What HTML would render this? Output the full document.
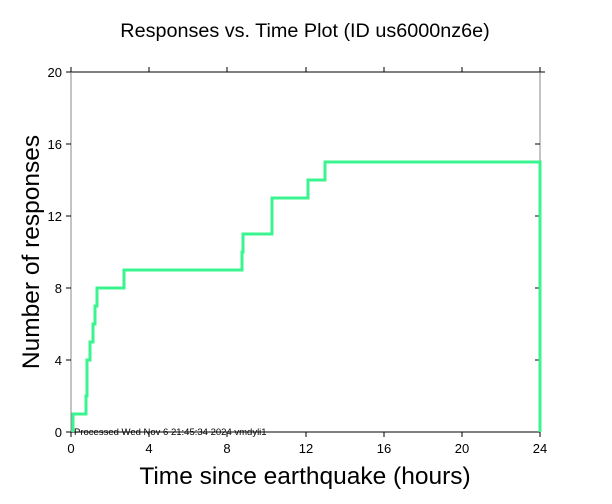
<!DOCTYPE html>
<html><head><style>body{margin:0;background:#fff}svg{display:block}</style></head><body>
<svg width="612" height="504" viewBox="0 0 612 504" xmlns="http://www.w3.org/2000/svg" font-family="Liberation Sans, sans-serif">
<rect width="612" height="504" fill="#fff"/>
<text x="305" y="37" font-size="19.8" text-anchor="middle">Responses vs. Time Plot (ID us6000nz6e)</text>
<g stroke="#000" stroke-width="1">
<line x1="71" y1="72" x2="540" y2="72"/>
<line x1="71" y1="432" x2="540" y2="432"/>
<line x1="71" y1="72" x2="71" y2="432" stroke="#888"/>
<line x1="540" y1="72" x2="540" y2="432" stroke="#888"/>
<line x1="66" y1="72" x2="71" y2="72"/><line x1="66" y1="144" x2="71" y2="144"/><line x1="66" y1="216" x2="71" y2="216"/><line x1="66" y1="288" x2="71" y2="288"/><line x1="66" y1="360" x2="71" y2="360"/><line x1="66" y1="432" x2="71" y2="432"/>
<line x1="540" y1="72" x2="545" y2="72"/><line x1="535" y1="144" x2="540" y2="144"/><line x1="535" y1="216" x2="540" y2="216"/><line x1="535" y1="288" x2="540" y2="288"/><line x1="535" y1="360" x2="540" y2="360"/>
<line x1="71" y1="432" x2="71" y2="437"/><line x1="149" y1="432" x2="149" y2="437"/><line x1="227" y1="432" x2="227" y2="437"/><line x1="306" y1="432" x2="306" y2="437"/><line x1="384" y1="432" x2="384" y2="437"/><line x1="462" y1="432" x2="462" y2="437"/><line x1="540" y1="432" x2="540" y2="437"/>
<line x1="71" y1="67" x2="71" y2="72"/><line x1="149" y1="67" x2="149" y2="72"/><line x1="227" y1="67" x2="227" y2="72"/><line x1="306" y1="67" x2="306" y2="72"/><line x1="384" y1="67" x2="384" y2="72"/><line x1="462" y1="67" x2="462" y2="72"/><line x1="540" y1="67" x2="540" y2="72"/>
</g>
<g font-size="13" text-anchor="end">
<text x="62" y="77">20</text><text x="62" y="149">16</text><text x="62" y="221">12</text><text x="62" y="293">8</text><text x="62" y="365">4</text><text x="62" y="437">0</text>
</g>
<g font-size="13" text-anchor="middle">
<text x="71" y="453">0</text><text x="149" y="453">4</text><text x="227" y="453">8</text><text x="306" y="453">12</text><text x="384" y="453">16</text><text x="462" y="453">20</text><text x="540" y="453">24</text>
</g>
<text x="305" y="484" font-size="24.5" text-anchor="middle">Time since earthquake (hours)</text>
<text transform="translate(39,252) rotate(-90)" font-size="24.5" text-anchor="middle">Number of responses</text>
<polyline fill="none" stroke="#3af58f" stroke-width="3" points="73,432 73,414 86,414 86,396 87,396 87,360 90,360 90,342 93,342 93,324 95,324 95,306 97,306 97,288 124,288 124,270 242,270 242,252 243,252 243,234 272,234 272,198 308,198 308,180 325,180 325,162 540,162 540,432"/>
<text x="74" y="435" font-size="9.5">Processed Wed Nov  6 21:45:34 2024 vmdyli1</text>
</svg>
</body></html>
